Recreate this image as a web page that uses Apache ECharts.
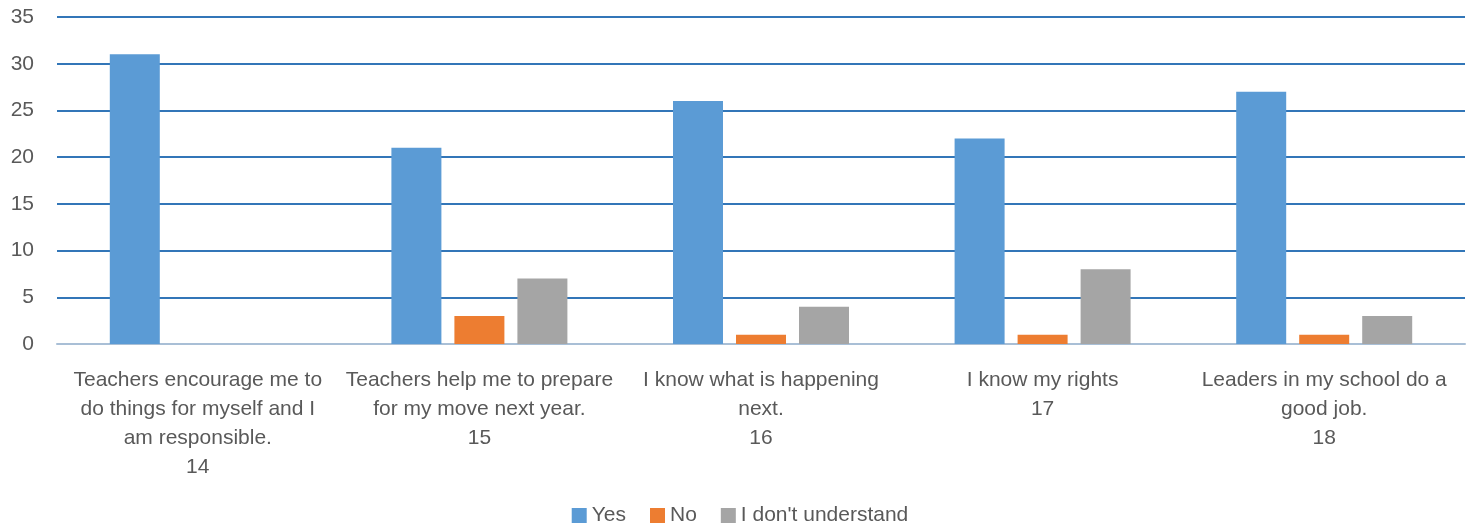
<!DOCTYPE html>
<html><head><meta charset="utf-8">
<script src="https://cdn.jsdelivr.net/npm/echarts@6/dist/echarts.min.js"></script>
<style>html,body{margin:0;padding:0;background:#fff}#c{width:1480px;height:524px}</style>
</head><body><div id="c"></div>
<script>
const categories = [
  "Teachers encourage me to\ndo things for myself and I\nam responsible.\n14",
  "Teachers help me to prepare\nfor my move next year.\n15",
  "I know what is happening\nnext.\n16",
  "I know my rights\n17",
  "Leaders in my school do a\ngood job.\n18"
];
const yesValues = [31, 21, 26, 22, 27];
const noValues = [0, 3, 1, 1, 1];
const dontUnderstandValues = [0, 7, 4, 8, 3];
const seriesNames = ["Yes", "No", "I don't understand"];

const font = "Liberation Sans";
const chart = echarts.init(document.getElementById('c'), null, {renderer: 'canvas'});
chart.setOption({
  animation: false,
  color: ['#5b9bd5', '#ed7d31', '#a5a5a5'],
  grid: {left: 57, right: 15, top: 17, bottom: 180, containLabel: false},
  legend: {
    bottom: -7, left: 'center', itemWidth: 15, itemHeight: 15, itemGap: 24,
    icon: 'rect',
    textStyle: {fontFamily: font, fontSize: 21, color: '#595959'},
    data: seriesNames
  },
  xAxis: {
    type: 'category', data: categories,
    axisLine: {lineStyle: {color: '#a9bfd6', width: 2}},
    axisTick: {show: false},
    axisLabel: {fontFamily: font, fontSize: 21, color: '#595959', lineHeight: 29, margin: 22, interval: 0}
  },
  yAxis: {
    type: 'value', min: 0, max: 35, interval: 5,
    axisLine: {show: false}, axisTick: {show: false},
    splitLine: {lineStyle: {color: '#3276b8', width: 2}},
    axisLabel: {fontFamily: font, fontSize: 21, color: '#595959', margin: 23}
  },
  series: [
    {name: seriesNames[0], type: 'bar', data: yesValues, barWidth: 50, barGap: '26%'},
    {name: seriesNames[1], type: 'bar', data: noValues, barWidth: 50, barGap: '26%'},
    {name: seriesNames[2], type: 'bar', data: dontUnderstandValues, barWidth: 50, barGap: '26%'}
  ]
});
</script></body></html>
